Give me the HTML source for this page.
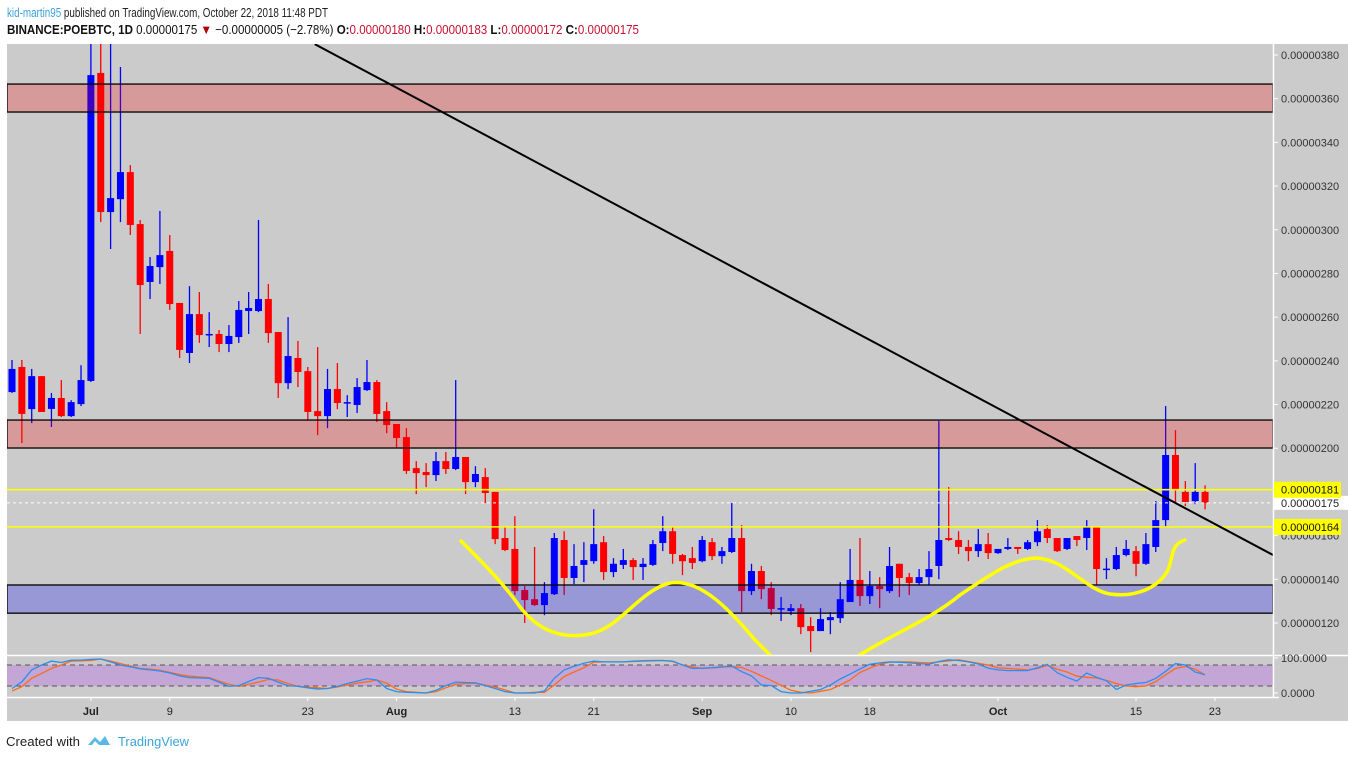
<!DOCTYPE html>
<html><head><meta charset="utf-8"><style>
html,body{margin:0;padding:0;background:#fff;width:1348px;height:759px;overflow:hidden}
svg{display:block;font-family:"Liberation Sans",sans-serif}
</style></head><body>
<svg id="chart" width="1348" height="759" viewBox="0 0 1348 759" xmlns="http://www.w3.org/2000/svg">
<defs><clipPath id="mainClip"><rect x="7" y="44" width="1266" height="611"/></clipPath>
<clipPath id="oscClip"><rect x="7" y="656" width="1266" height="41"/></clipPath></defs>
<text x="7" y="17" font-size="13" fill="#222" textLength="321" lengthAdjust="spacingAndGlyphs"><tspan fill="#3ba3d9">kid-martin95</tspan> published on TradingView.com, October 22, 2018 11:48 PDT</text>
<text x="7" y="34" font-size="13" fill="#111" textLength="632" lengthAdjust="spacingAndGlyphs"><tspan font-weight="bold">BINANCE:POEBTC, 1D</tspan> 0.00000175 <tspan fill="#b00000">▼</tspan> −0.00000005 (−2.78%) <tspan font-weight="bold">O:</tspan><tspan fill="#c8102e">0.00000180</tspan> <tspan font-weight="bold">H:</tspan><tspan fill="#c8102e">0.00000183</tspan> <tspan font-weight="bold">L:</tspan><tspan fill="#c8102e">0.00000172</tspan> <tspan font-weight="bold">C:</tspan><tspan fill="#c8102e">0.00000175</tspan></text>
<rect x="7" y="44" width="1341" height="677" fill="#cbcbcb"/>
<g id="zonesUnder"></g>
<g id="candles" clip-path="url(#mainClip)"></g>
<g id="zones" clip-path="url(#mainClip)"></g>
<g id="overlay" clip-path="url(#mainClip)"></g>
<g id="osc"></g>
<line x1="7" y1="655.5" x2="1348" y2="655.5" stroke="#fff" stroke-width="1.5"/>
<line x1="7" y1="697.5" x2="1279" y2="697.5" stroke="#fff" stroke-width="1.5"/>
<line x1="1273.5" y1="44" x2="1273.5" y2="697" stroke="#fff" stroke-width="1.5"/>
<g id="axes"></g>
<text x="6" y="746" font-size="13" fill="#222" textLength="74" lengthAdjust="spacingAndGlyphs">Created with</text>
<g transform="translate(88,733)"><path d="M0 12 L7 4 L12 9 L17 3 L22 12 Z" fill="#5ab8e6"/><path d="M4 12 L7 8 L11 12 Z" fill="#fff"/></g>
<text x="118" y="746" font-size="13" fill="#3ba3d9" textLength="71" lengthAdjust="spacingAndGlyphs">TradingView</text>
</svg>
<script>
const opens=[225.7,237.2,217.9,233,218,223,214.7,220.2,230.8,371.8,308.1,314,326.4,302.6,276.1,282.9,290.3,266.5,243.6,261.4,251.8,252.3,247.7,250.9,262.8,262.8,268.3,253.2,229.8,241.3,235.3,217,214.7,227.1,220.7,219.8,226.6,230.3,217,211.1,205.1,190.9,189.1,187.7,194.1,190.5,196,184.5,186.8,180,158.9,153.9,135.1,130.9,128.2,133.2,158,140.6,146.6,148.3,157,143.3,146.6,148.8,145.6,146.6,156.6,162,151.1,149.7,148.3,157,150.6,152.5,158.9,134.6,143.8,136,126.4,125.5,126.8,118.6,116.3,121.3,122.2,129.6,139.7,132.3,136.9,134.6,147.1,141,138.3,141,146.1,158.9,158,154.8,152.9,156.1,152,153.9,154.8,153.9,157,163,158.9,153.9,159.8,158.9,163.9,144.7,144.7,151.1,152.9,147.1,154.8,167.1,196.9,180,175.8,180];
const highs=[240.4,240.4,236.3,233,225.3,231.2,222,238,395,395,392,374.5,329.6,304.5,287.5,308.6,297.6,266.5,274.2,271.5,262.3,254.1,256.4,267.4,271.5,304.5,275.2,253.2,260,249.1,237.2,246.3,236.3,239,224.3,232.1,240.4,231.2,221.1,211.1,209.2,194.1,193.2,198.3,198.3,231.2,196,191.8,190.9,180,163.9,168.9,136.9,154.8,138.7,161.2,162,156.1,157,172.1,159.8,149.7,153.9,149.7,149.7,158,168.9,163.9,151.6,154.8,159.8,158.9,154.8,174.9,164.8,147.1,146.1,138.7,131.9,128.7,128.7,122.7,126.8,125,138.7,153.9,158.9,143.8,141,154.8,147.1,142.9,144.7,152.9,212.4,182.2,162,158,163,161.2,153.9,158.9,154.8,158,167.1,164.8,158.9,158.9,159.8,167.1,163.9,149.7,154.8,158,155.2,161.2,175.8,219.3,208.3,185,193.2,183];
const lows=[225.3,202.4,211.5,216.6,209.7,214.3,214.3,219.3,230.3,303.5,291.2,303.5,297.6,252.3,268.3,275.2,263.3,241.3,239,248.2,246.3,244,244,248.2,252.3,262.3,248.2,223,227.1,228,212.9,206,209.2,217.9,214.3,216.1,226.2,212,206.9,200.1,188.2,179,182.2,185,188.2,190,179,182.2,174.9,156.1,152.9,132.8,120,127.8,123.6,132.8,132.8,137.8,138.7,147.1,139.7,141,144.7,139.7,139.7,146.1,152.9,147.1,141.9,144.7,147.8,148.8,147.1,152,125,132.8,130.9,123.6,120.9,123.6,114.9,106.7,116.3,114.9,120,129.6,127.8,128.7,126.8,133.7,131.9,132.8,137.4,137.4,140.1,157.5,151.6,148.3,150.2,149.3,151.6,153.4,151.6,153.4,155.2,156.6,152.5,153.4,155.2,153.4,137.4,140.1,144.2,150.5,141.4,146.6,152.5,163.9,175.4,173.5,174.4,172];
const closes=[236.3,215.7,233,216.6,223,214.7,221.1,231.2,370.8,308.1,314.5,326.4,302.2,274.7,283.4,288.4,266,245,261.4,251.8,252.3,247.7,251.4,263.3,264.2,268.3,252.7,229.8,242.2,234.9,216.6,214.7,227.1,220.7,221.1,228,230.3,215.7,210.6,204.7,189.6,188.6,187.7,194.1,190.5,196,184.5,188.2,179.5,158.4,153.4,134.6,130.5,128.2,133.7,158.9,140.6,146.1,148.8,156.1,143.3,147.1,148.8,145.6,147.1,156.1,162,151.6,148.3,147.5,158,150.6,152.9,158.9,134.6,143.8,135.5,126.4,126.8,126.8,118.1,116.3,121.8,122.7,130.9,139.7,132.3,136.9,135.5,146.1,140.6,138.3,141,144.7,158,158,154.8,152.9,156.1,152,153.9,154.8,153.9,157,162,158.9,152.9,158.9,158,163.9,144.7,144.9,151.1,153.9,147.1,156.1,167.1,196.9,181.3,175.4,180,175];
const stochK=[13,32,66,80,91,87,94,94,96,97,89,80,75,69,66,63,57,49,44,43,42,31,19,21,33,44,42,31,21,19,15,11,13,19,27,34,41,37,13,4,2,1,0,8,21,31,30,29,21,13,4,0,0,0,6,42,66,76,85,91,89,89,89,91,92,93,93,91,80,70,71,72,74,77,61,49,23,21,4,0,0,5,10,23,40,54,69,82,86,89,88,86,84,82,90,95,93,89,83,71,66,64,64,64,72,82,58,45,34,57,45,35,10,23,27,30,42,62,84,80,60,52];
const stochD=[6,18,42,56,70,80,91,92,93,97,91,84,77,70,68,65,59,53,48,46,44,34,25,19,25,31,39,37,27,19,17,15,13,17,23,28,32,37,28,11,4,2,0,4,15,25,27,28,23,17,9,0,0,2,2,23,47,60,72,88,89,89,89,90,91,92,93,90,80,75,70,72,75,75,73,62,49,36,22,8,2,0,5,10,23,37,59,71,82,88,89,89,87,86,89,92,95,90,85,80,72,70,68,66,70,79,68,60,48,45,43,36,27,20,18,20,33,52,70,76,68,52];
const priceTicks=[380,360,340,320,300,280,260,240,220,200,160,140,120];
const dateLabels=["Jul","9","23","Aug","13","21","Sep","10","18","Oct","15","23"];
const dateIndex=[8,16,30,39,51,59,70,79,87,100,114,122];
const dateBold=[1,0,0,1,0,0,1,0,0,1,0,0];
const redZones=[[353.9,366.7],[200.1,212.9]];
const blueZones=[[124.5,137.4]];
const levelLines=[181,164];
const lastPrice=175;
const trendStart=[30.7,385];
const trendEnd=[127.9,151.1];
const oscLevels=[80,20];

const NS="http://www.w3.org/2000/svg";
const X=i=>12+i*9.86;
const Y=p=>55+(380-p)*2.1846;
const OY=v=>693-v*0.35;
const L=7,R=1273;
function mk(tag,attrs,parent){const e=document.createElementNS(NS,tag);for(const k in attrs)e.setAttribute(k,attrs[k]);parent.appendChild(e);return e;}
const gC=document.getElementById('candles'),gZ=document.getElementById('zones'),gO=document.getElementById('overlay'),gOsc=document.getElementById('osc'),gA=document.getElementById('axes');

for(let i=0;i<opens.length;i++){
  const up=closes[i]>=opens[i];const col=up?'#0000ff':'#ff0000';
  const g=mk('g',{},gC);
  
  
  const w=mk('line',{x1:X(i),x2:X(i),y1:Y(highs[i]),y2:Y(lows[i]),stroke:col,'stroke-width':1.3},g);
  
  
  const top=Y(Math.max(opens[i],closes[i])),bot=Y(Math.min(opens[i],closes[i]));
  const b=mk('rect',{x:X(i)-3.5,y:top,width:7,height:Math.max(1.5,bot-top),fill:col},g);
  
  
}
redZones.forEach(z=>{
  const r=mk('rect',{x:L,y:Y(z[1]),width:R-L,height:Y(z[0])-Y(z[1]),fill:'rgba(255,0,0,0.24)',stroke:'#000','stroke-width':1.3},gZ);
  
  
});
blueZones.forEach(z=>{
  const r=mk('rect',{x:L,y:Y(z[1]),width:R-L,height:Y(z[0])-Y(z[1]),fill:'rgba(0,0,250,0.25)',stroke:'#000','stroke-width':1.3},gZ);
  
  
});
levelLines.forEach(p=>{
  const l=mk('line',{x1:L,x2:R,y1:Y(p),y2:Y(p),stroke:'#ffff00','stroke-width':1.6},gO);
  
  
});
const lp=mk('line',{x1:L,x2:R,y1:Y(lastPrice),y2:Y(lastPrice),stroke:'#fff','stroke-width':1,'stroke-dasharray':'3,3'},gO);


const tl=mk('line',{x1:X(trendStart[0]),y1:Y(trendStart[1]),x2:X(trendEnd[0]),y2:Y(trendEnd[1]),stroke:'#000','stroke-width':2},gO);


const c1=mk('path',{d:'M461,541 C480,560 500,580 515,600 C535,630 560,640 590,634 C620,628 640,590 670,583 C700,578 730,610 755,640 L775,660',fill:'none',stroke:'#ffff00','stroke-width':3.5,'stroke-linecap':'round'},gO);


const c2=mk('path',{d:'M855,658 C890,635 930,620 960,595 C990,575 1010,560 1035,558 C1065,558 1085,590 1110,594 C1140,598 1160,585 1168,570 C1174,555 1170,545 1185,540',fill:'none',stroke:'#ffff00','stroke-width':3.5,'stroke-linecap':'round'},gO);



// oscillator
const band=mk('rect',{x:L,y:OY(oscLevels[0]),width:R-L,height:OY(oscLevels[1])-OY(oscLevels[0]),fill:'#c3a6d5'},gOsc);


oscLevels.forEach(v=>{
  const l=mk('line',{x1:L,x2:R,y1:OY(v),y2:OY(v),stroke:'#555','stroke-width':1,'stroke-dasharray':'5,4'},gOsc);
  
  
});
function series(arr,col,name){
  const d=arr.map((v,i)=>(i?'L':'M')+X(i).toFixed(1)+','+OY(v).toFixed(1)).join(' ');
  const p=mk('path',{d:d,fill:'none',stroke:col,'stroke-width':1.3,'clip-path':'url(#oscClip)'},gOsc);
  
  
}
series(stochD,'#ff6a1a','stoch-d-line');
series(stochK,'#2a8ff0','stoch-k-line');

// axes
priceTicks.forEach(p=>{
  mk('line',{x1:1273,x2:1278,y1:Y(p),y2:Y(p),stroke:'#fff'},gA);
  const t=mk('text',{x:1281,y:Y(p)+4,'font-size':11,fill:'#333'},gA);
  
  
  t.textContent='0.00000'+String(p);
});
const lpb=mk('rect',{x:1274,y:Y(lastPrice)-7,width:74,height:14,fill:'#fff'},gA);


const lpt=mk('text',{x:1281,y:Y(lastPrice)+4,'font-size':11,fill:'#222'},gA);


lpt.textContent='0.00000'+lastPrice;
levelLines.forEach(p=>{
  const b=mk('rect',{x:1274,y:Y(p)-8,width:67,height:16,fill:'#ffff00'},gA);
  
  
  const t=mk('text',{x:1281,y:Y(p)+4,'font-size':11,fill:'#111'},gA);
  
  
  t.textContent='0.00000'+p;
});
[['100.0000',100],['0.0000',0]].forEach(a=>{
  mk('line',{x1:1273,x2:1278,y1:OY(a[1]),y2:OY(a[1]),stroke:'#fff'},gA);
  const t=mk('text',{x:1281,y:OY(a[1])+4,'font-size':11,fill:'#333'},gA);
  
  
  t.textContent=a[0];
});
dateLabels.forEach((s,k)=>{
  const x=X(dateIndex[k]);
  mk('line',{x1:x,x2:x,y1:697,y2:701,stroke:'#fff'},gA);
  const t=mk('text',{x:x,y:715,'font-size':11,fill:'#222','text-anchor':'middle','font-weight':dateBold[k]?'bold':'normal'},gA);
  
  
  t.textContent=s;
});
</script>
</body></html>
